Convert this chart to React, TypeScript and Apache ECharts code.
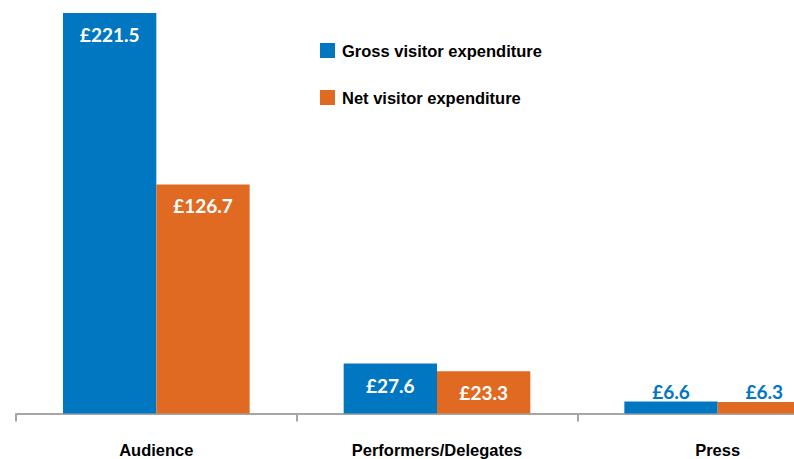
import React, { useEffect, useRef } from "react";
import * as echarts from "echarts";

const categories = ["Audience", "Performers/Delegates", "Press"];
const grossValues = [221.5, 27.6, 6.6];
const netValues = [126.7, 23.3, 6.3];
const seriesNames = ["Gross visitor expenditure", "Net visitor expenditure"];

const BLUE = "#0077C0";
const ORANGE = "#E06A22";

function makeData(values: number[], color: string) {
  return values.map((v) => {
    const small = v < 15;
    return {
      value: v,
      label: small
        ? { position: "top", distance: 1, color: BLUE }
        : { position: "insideTop", distance: 12, color: "#ffffff" },
    };
  });
}

export default function App() {
  const ref = useRef<HTMLDivElement>(null);
  useEffect(() => {
    if (!ref.current) return;
    const chart = echarts.init(ref.current, undefined, { renderer: "svg" });
    const labelBase = {
      show: true,
      fontFamily: "Lato",
      fontWeight: "bold",
      fontSize: 19,
      formatter: (p: any) => "£" + Number(p.value).toFixed(1),
    };
    chart.setOption({
      animation: false,
      grid: { left: 16, right: 0, top: 13, bottom: 45.5, containLabel: false },
      legend: {
        orient: "vertical",
        left: 315,
        top: 37,
        icon: "rect",
        itemWidth: 15,
        itemHeight: 15,
        itemGap: 30,
        textStyle: {
          fontFamily: "Liberation Sans",
          fontWeight: "bold",
          fontSize: 16.5,
          color: "#000",
          padding: [0, 0, 0, 2],
        },
        data: seriesNames,
      },
      xAxis: {
        type: "category",
        data: categories,
        axisLine: { show: true, lineStyle: { color: "#A6A6A6", width: 2 } },
        axisTick: { show: true, length: 8, lineStyle: { color: "#A6A6A6", width: 2 } },
        axisLabel: {
          margin: 28,
          fontFamily: "Liberation Sans",
          fontWeight: "bold",
          fontSize: 16.5,
          color: "#000",
        },
      },
      yAxis: {
        type: "value",
        min: 0,
        max: 221.5,
        show: false,
        splitLine: { show: false },
      },
      series: [
        {
          name: seriesNames[0],
          type: "bar",
          barGap: "0%",
          barCategoryGap: "33.5%",
          itemStyle: { color: BLUE },
          label: labelBase,
          data: makeData(grossValues, BLUE),
        },
        {
          name: seriesNames[1],
          type: "bar",
          barGap: "0%",
          barCategoryGap: "33.5%",
          itemStyle: { color: ORANGE },
          label: labelBase,
          data: makeData(netValues, ORANGE),
        },
      ],
    });
    return () => chart.dispose();
  }, []);
  return (
    <div
      style={{
        position: "fixed",
        left: 0,
        top: 0,
        width: 794,
        height: 459,
        overflow: "hidden",
        background: "#fff",
      }}
    >
      <div ref={ref} style={{ width: 858, height: 459 }} />
    </div>
  );
}
